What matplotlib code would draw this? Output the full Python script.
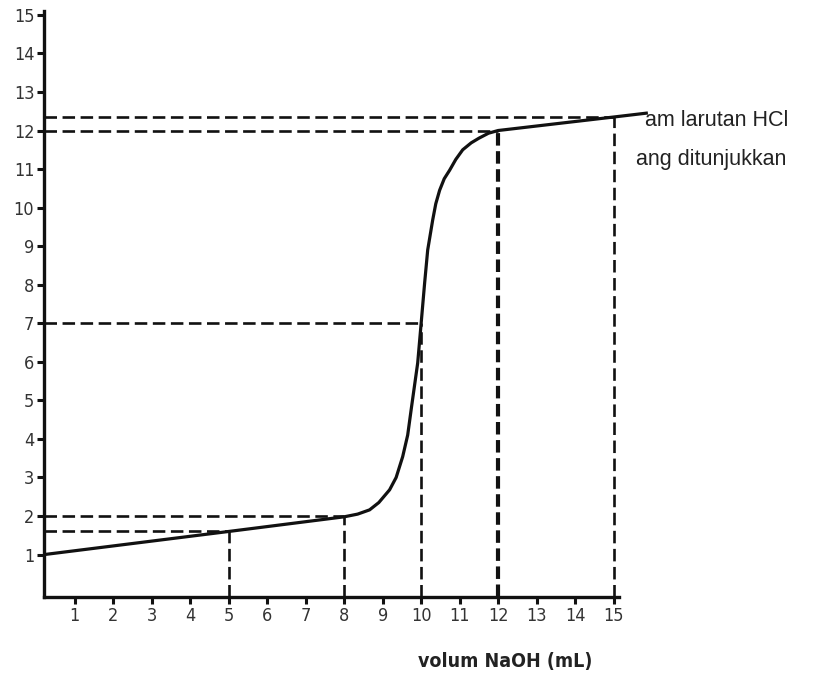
import matplotlib
matplotlib.use("Agg")
import matplotlib.pyplot as plt

# titration curve
volume = [0.2, 5.0, 8.0, 8.35, 8.66, 8.9, 9.18, 9.35, 9.52, 9.65, 9.75, 9.91, 10.0,
          10.09, 10.17, 10.3, 10.38, 10.48, 10.6, 10.74, 10.9, 11.08, 11.3, 11.5,
          11.75, 12.0, 15.0, 15.85]
ph = [1.0, 1.6, 1.98, 2.05, 2.16, 2.35, 2.68, 3.0, 3.54, 4.1, 4.83, 5.97, 7.0,
      8.04, 8.9, 9.68, 10.1, 10.45, 10.75, 10.97, 11.25, 11.5, 11.68, 11.8,
      11.93, 12.0, 12.35, 12.45]

# dashed guide lines (volume, pH)
guide_vol = [5, 8, 10, 12, 15]
guide_ph = [1.6, 2.0, 7.0, 12.0, 12.35]

x_ticks = list(range(1, 16))
y_ticks = list(range(1, 16))

plt.rcParams['lines.scale_dashes'] = False

fig = plt.figure(figsize=(8.32, 6.84), dpi=100)
ax = fig.add_axes([44 / 832, 87 / 684, 762 / 832, 586 / 684])
ax.set_xlim(0.2, 20)
ax.set_ylim(-0.1, 15.1)

dash = (0, (9, 4))
for v, p in zip(guide_vol, guide_ph):
    lw = 3.0 if v == 12 else 1.9
    ax.plot([0.2, v], [p, p], color='#111111', lw=1.9, linestyle=dash, zorder=2)
    ax.plot([v, v], [-0.1, p], color='#111111', lw=lw, linestyle=dash, zorder=2)

ax.plot(volume, ph, color='#111111', lw=2.3, zorder=3, solid_joinstyle='round')

for s in ['top', 'right']:
    ax.spines[s].set_visible(False)
for s in ['left', 'bottom']:
    ax.spines[s].set_linewidth(2.4)
    ax.spines[s].set_color('#111111')
ax.spines['bottom'].set_bounds(0.2, 15.15)

ax.set_xticks(x_ticks)
ax.set_yticks(y_ticks)
ax.set_xticklabels([str(t) for t in x_ticks], family='DejaVu Sans', stretch='condensed',
                   fontsize=13, color='#333333')
ax.set_yticklabels([str(t) for t in y_ticks], family='DejaVu Sans', stretch='condensed',
                   fontsize=13, color='#333333')
ax.tick_params(axis='both', length=5, width=2.2, color='#111111', pad=2)

fig.text(505 / 832, 1 - 662 / 684, 'volum NaOH (mL)', ha='center', va='center',
         fontsize=14, fontweight='bold', family='DejaVu Sans', stretch='condensed',
         color='#222222')

fig.text(645 / 832, 1 - 120 / 684, 'am larutan HCl', ha='left', va='center',
         fontsize=15.5, family=['Liberation Sans', 'DejaVu Sans'], color='#222222')
fig.text(636 / 832, 1 - 160 / 684, 'ang ditunjukkan', ha='left', va='center',
         fontsize=15.5, family=['Liberation Sans', 'DejaVu Sans'], color='#222222')

fig.savefig('out.png', dpi=100)
